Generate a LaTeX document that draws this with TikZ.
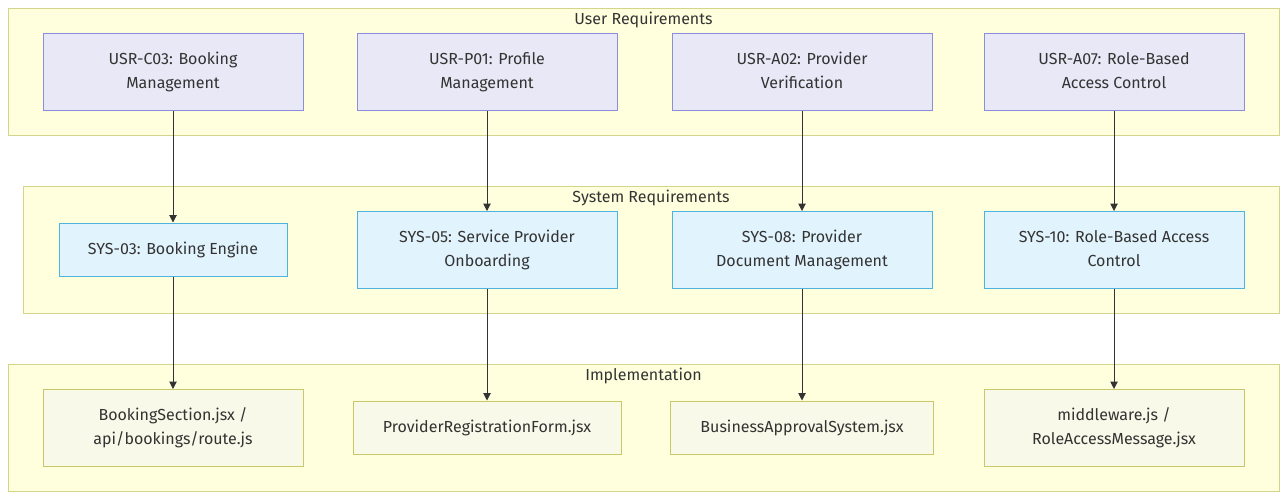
\documentclass[tikz,border=0pt]{standalone}
\usepackage{fontspec}
\setmainfont{Fira Sans}
\usetikzlibrary{arrows.meta,positioning}
\definecolor{clfill}{RGB}{255,255,222}
\definecolor{clline}{RGB}{212,212,138}
\definecolor{usrfill}{RGB}{232,232,246}
\definecolor{usrline}{RGB}{138,143,217}
\definecolor{sysfill}{RGB}{225,243,253}
\definecolor{sysline}{RGB}{79,179,224}
\definecolor{impfill}{RGB}{248,249,232}
\definecolor{impline}{RGB}{201,201,106}
\definecolor{txtcolor}{RGB}{51,51,51}
\tikzset{
  box/.style     = {rectangle, line width=0.75pt, align=center, inner sep=0pt,
                    font=\fontsize{12}{18}\selectfont, text=txtcolor,
                    execute at end node=\vphantom{g}},
  usrbox/.style  = {box, fill=usrfill, draw=usrline, minimum width=195pt, minimum height=57.75pt},
  sysbox/.style  = {box, fill=sysfill, draw=sysline, minimum width=195pt, minimum height=57.75pt},
  impbox/.style  = {box, fill=impfill, draw=impline, minimum width=195pt, minimum height=57.75pt},
  cluster/.style = {rectangle, fill=clfill, draw=clline, line width=0.75pt,
                    minimum height=95.25pt, inner sep=0pt},
  cltitle/.style = {font=\fontsize{12}{18}\selectfont, text=txtcolor, inner sep=0pt},
  conn/.style    = {-{Triangle[length=5.5pt,width=5.5pt]}, line width=0.75pt, draw=txtcolor}
}
\begin{document}
\begin{tikzpicture}[x=0.75pt,y=-0.75pt]
\useasboundingbox (0,0) rectangle (1287,500);

% --- clusters ---
\node[cluster, minimum width=953.25pt] (ur) at (643.5,71.5) {};
\node[cltitle] (urt) at (643.5,19.5) {User Requirements};
\node[cluster, minimum width=942pt] (sr) at (651,249.5) {};
\node[cltitle] (srt) at (651,197.5) {System Requirements};
\node[cluster, minimum width=953.25pt] (im) at (643.5,427.5) {};
\node[cltitle] (imt) at (643.5,375.5) {Implementation};

% --- user requirements ---
\foreach \x/\name/\txt in {173/uc03/{USR-C03: Booking\\Management},
                           487/up01/{USR-P01: Profile\\Management},
                           802/ua02/{USR-A02: Provider\\Verification},
                           1114/ua07/{USR-A07: Role-Based\\Access Control}}{
  \node[usrbox] (\name) at (\x,72) {\txt};
}

% --- system requirements ---
\node[sysbox, minimum width=171pt, minimum height=39.75pt] (s03) at (173,249.5) {SYS-03: Booking Engine};
\node[sysbox] (s05) at (487,250) {SYS-05: Service Provider\\Onboarding};
\node[sysbox] (s08) at (802,250) {SYS-08: Provider\\Document Management};
\node[sysbox] (s10) at (1114,250) {SYS-10: Role-Based Access\\Control};

% --- implementation ---
\node[impbox] (i03) at (173,428) {BookingSection.jsx /\\api/bookings/route.js};
\node[impbox, minimum width=201pt, minimum height=39.75pt] (i05) at (487,427.5) {ProviderRegistrationForm.jsx};
\node[impbox, minimum width=197.25pt, minimum height=39.75pt] (i08) at (802,427.5) {BusinessApprovalSystem.jsx};
\node[impbox] (i10) at (1114,428) {middleware.js /\\RoleAccessMessage.jsx};

% --- connections ---
\foreach \a/\b in {uc03/s03, up01/s05, ua02/s08, ua07/s10,
                   s03/i03, s05/i05, s08/i08, s10/i10}{
  \draw[conn] (\a.south) -- (\b.north);
}

\end{tikzpicture}
\end{document}
